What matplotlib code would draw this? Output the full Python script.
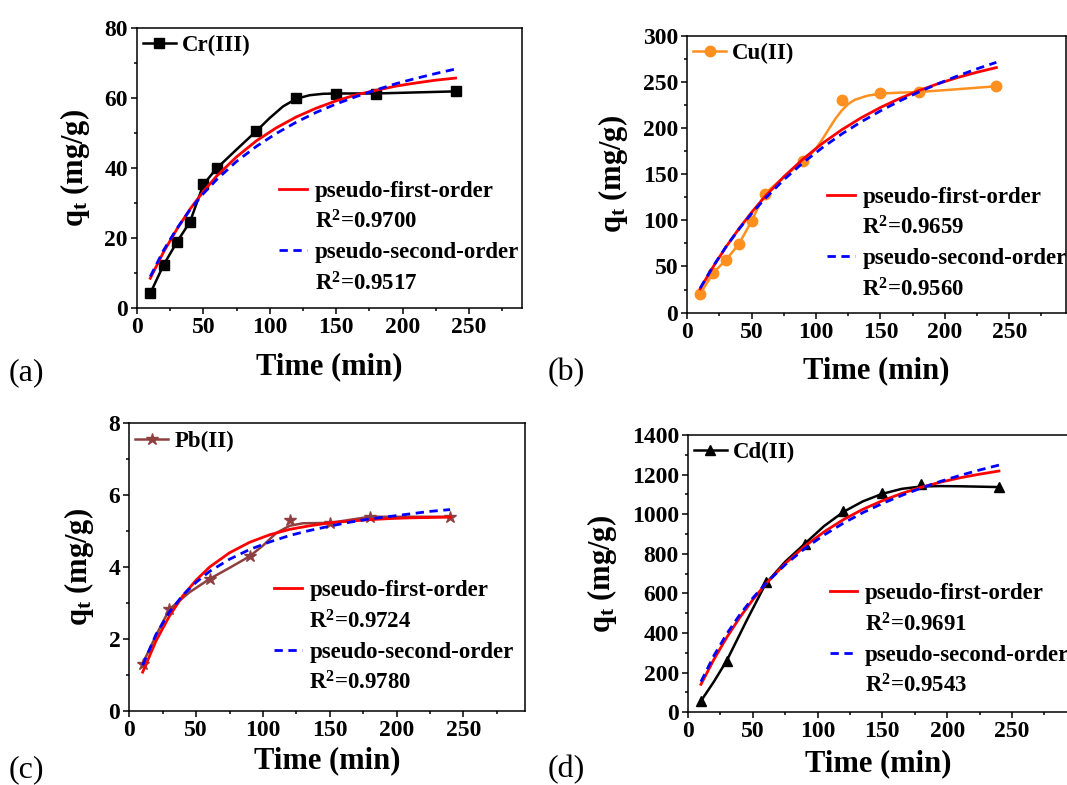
import matplotlib
matplotlib.use('Agg')
import matplotlib.pyplot as plt
from matplotlib.lines import Line2D
from matplotlib.ticker import MultipleLocator

plt.rcParams['font.family'] = 'Liberation Serif'
plt.rcParams['font.weight'] = 'bold'
plt.rcParams['axes.labelweight'] = 'bold'
plt.rcParams['mathtext.fontset'] = 'custom'
plt.rcParams['mathtext.rm'] = 'Liberation Serif:bold'
plt.rcParams['mathtext.bf'] = 'Liberation Serif:bold'
plt.rcParams['mathtext.it'] = 'Liberation Serif:bold'

# measured points
t_cr = [10, 20, 30, 40, 50, 60, 90, 120, 150, 180, 240]
q_cr = [4.2, 12.3, 18.8, 24.7, 35.3, 39.9, 50.6, 60.1, 61.2, 61.2, 61.9]
t_cu = [10, 20, 30, 40, 50, 60, 90, 120, 150, 180, 240]
q_cu = [20.3, 42.7, 57.1, 74.1, 99.3, 128.6, 164.3, 230.0, 237.6, 239.0, 245.2]
t_pb = [10, 30, 60, 90, 120, 150, 180, 240]
q_pb = [1.32, 2.83, 3.67, 4.30, 5.31, 5.23, 5.40, 5.40]
t_cd = [10, 30, 60, 90, 120, 150, 180, 240]
q_cd = [57, 260, 656, 848, 1016, 1105, 1152, 1137]

# smoothed connecting lines (traced)
cr_line_t = [10, 20, 30, 40, 50, 60, 75, 90, 100, 110, 120, 130, 140, 150, 165, 180, 210, 240]
cr_line_q = [4.2, 12.3, 18.8, 24.7, 35.3, 39.9, 45.3, 50.6, 54.3, 57.6, 59.8, 60.8, 61.2, 61.3, 61.3, 61.3, 61.6, 61.9]
cu_line_t = [10, 20, 30, 40, 50, 60, 75, 90, 95, 100, 105, 110, 115, 120, 125, 130, 140, 150, 165, 180, 210, 240]
cu_line_q = [20.3, 42.7, 57.1, 74.1, 99.3, 128.6, 147, 164.3, 170, 178, 188, 199, 210, 219, 226, 230.5, 235, 237.2, 238.3, 239.0, 242, 245.2]
pb_line_t = [10, 20, 30, 45, 60, 75, 90, 100, 110, 120, 130, 150, 180, 210, 240]
pb_line_q = [1.32, 2.1, 2.83, 3.3, 3.67, 3.98, 4.30, 4.6, 4.95, 5.15, 5.22, 5.23, 5.40, 5.40, 5.40]
cd_line_t = [10, 20, 30, 45, 60, 75, 90, 105, 120, 135, 150, 165, 180, 195, 210, 225, 240]
cd_line_q = [57, 155, 262, 460, 650, 760, 850, 940, 1012, 1065, 1103, 1128, 1140, 1142, 1141, 1139, 1137]

# kinetic fit curves
t_fit = [10, 20, 30, 40, 50, 60, 75, 90, 105, 120, 135, 150, 165, 180, 195, 210, 225, 240]
cr_pfo = [8.5, 16.0, 22.5, 28.3, 33.3, 37.7, 43.2, 47.8, 51.5, 54.6, 57.1, 59.2, 60.9, 62.2, 63.4, 64.3, 65.1, 65.7]
cr_pso = [9.0, 16.5, 22.7, 28.1, 32.7, 36.7, 41.9, 46.2, 49.9, 53.1, 55.9, 58.3, 60.4, 62.3, 64.1, 65.6, 67.0, 68.3]
cu_pfo = [25.8, 49.4, 71.0, 90.7, 108.7, 125.2, 147.2, 166.5, 183.4, 198.1, 211.0, 222.2, 232.0, 240.6, 248.1, 254.7, 260.4, 265.4]
cu_pso = [26.5, 50.1, 71.2, 90.2, 107.4, 123.0, 144.0, 162.5, 178.8, 193.5, 206.6, 218.5, 229.3, 239.1, 248.1, 256.4, 264.1, 271.1]
pb_pfo = [1.08, 1.95, 2.64, 3.20, 3.64, 4.00, 4.40, 4.69, 4.90, 5.05, 5.15, 5.23, 5.28, 5.32, 5.35, 5.37, 5.38, 5.39]
pb_pso = [1.27, 2.13, 2.75, 3.22, 3.58, 3.88, 4.22, 4.49, 4.70, 4.88, 5.02, 5.14, 5.25, 5.34, 5.41, 5.48, 5.55, 5.60]
cd_pfo = [141, 267, 379, 479, 568, 648, 751, 838, 911, 973, 1025, 1068, 1105, 1136, 1162, 1184, 1202, 1218]
cd_pso = [155, 286, 397, 493, 577, 650, 745, 826, 895, 955, 1008, 1054, 1095, 1132, 1166, 1196, 1223, 1248]

r2_cr = ['0.9700', '0.9517']
r2_cu = ['0.9659', '0.9560']
r2_pb = ['0.9724', '0.9780']
r2_cd = ['0.9691', '0.9543']

fig = plt.figure(figsize=(10.67, 7.85), dpi=100)


def panel(rect, t, q, lt, lq, pfo, pso, r2, name, color, marker, ms, xmax, ymax, ymaj, letter, lpos, xpad):
    ax = fig.add_axes(rect)
    ax.plot(lt, lq, color=color, lw=1.8)
    ax.plot(t, q, linestyle='none', marker=marker, color=color, ms=ms)
    ax.plot(t_fit, pfo, color='red', lw=2)
    ax.plot(t_fit, pso, color='blue', lw=2, linestyle=(0, (3, 2)))
    ax.set_xlim(0, xmax)
    ax.set_ylim(0, ymax)
    ax.xaxis.set_major_locator(MultipleLocator(50))
    ax.xaxis.set_minor_locator(MultipleLocator(25))
    ax.yaxis.set_major_locator(MultipleLocator(ymaj))
    ax.yaxis.set_minor_locator(MultipleLocator(ymaj / 2))
    ax.tick_params(which='major', direction='out', length=4.5, width=1.1, labelsize=17, pad=2)
    ax.tick_params(which='minor', direction='out', length=2.5, width=1.1)
    for s in ax.spines.values():
        s.set_linewidth(1.1)
    ax.set_xlabel('Time (min)', fontsize=22, labelpad=xpad)
    ax.set_ylabel(r'q$_{\rm t}$ (mg/g)', fontsize=22, labelpad=9)

    h1 = Line2D([], [], color=color, lw=1.8, marker=marker, ms=ms)
    leg1 = ax.legend([h1], [name], loc='upper left', bbox_to_anchor=(0.015, 0.975),
                     frameon=False, fontsize=16.5, handlelength=1.45, handletextpad=0.25,
                     borderpad=0, borderaxespad=0)
    ax.add_artist(leg1)

    hr = Line2D([], [], color='red', lw=2)
    hb = Line2D([], [], color='blue', lw=2, linestyle=(0, (3, 2)))
    hn = Line2D([], [], color='none')
    ax.legend([hr, hn, hb, hn],
              ['pseudo-first-order', r'R$^{\rm 2}$=' + r2[0],
               'pseudo-second-order', r'R$^{\rm 2}$=' + r2[1]],
              loc='upper left', bbox_to_anchor=lpos, frameon=False, fontsize=16.5,
              handlelength=1.2, handletextpad=0.33, labelspacing=0.38,
              borderpad=0, borderaxespad=0)

    fig.text(letter[0], letter[1], letter[2], fontsize=23, fontweight='normal', va='center')
    return ax


panel([0.1284, 0.6076, 0.3608, 0.3567], t_cr, q_cr, cr_line_t, cr_line_q, cr_pfo, cr_pso, r2_cr,
      'Cr(III)', 'black', 's', 6.5, 290, 80, 20, (0.008, 0.525, '(a)'), (0.37, 0.455), 10)
panel([0.6441, 0.6017, 0.3549, 0.3529], t_cu, q_cu, cu_line_t, cu_line_q, cu_pfo, cu_pso, r2_cu,
      'Cu(II)', '#FF8F1F', 'o', 7.5, 294, 300, 50, (0.513, 0.525, '(b)'), (0.37, 0.455), 10)
panel([0.1212, 0.0943, 0.3708, 0.3665], t_pb, q_pb, pb_line_t, pb_line_q, pb_pfo, pb_pso, r2_pb,
      'Pb(II)', '#8E4040', '*', 9, 296, 8, 2, (0.008, 0.02, '(c)'), (0.366, 0.455), 4)
panel([0.6448, 0.0926, 0.3570, 0.3533], t_cd, q_cd, cd_line_t, cd_line_q, cd_pfo, cd_pso, r2_cd,
      'Cd(II)', 'black', '^', 7.5, 294, 1400, 200, (0.513, 0.02, '(d)'), (0.372, 0.465), 5)

fig.savefig('out.png', dpi=100)
